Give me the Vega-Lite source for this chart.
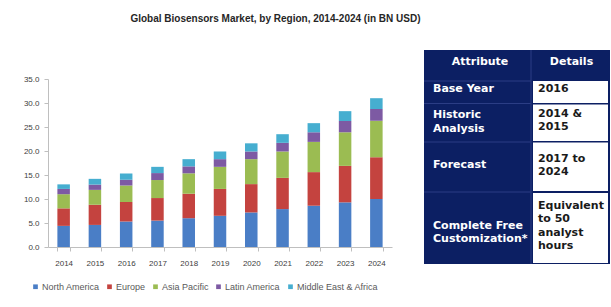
{
  "$schema": "https://vega.github.io/schema/vega-lite/v6.json",
  "padding": {"left": 23, "top": 13, "right": 0, "bottom": 0},
  "background": "white",
  "title": {
    "text": "Global Biosensors Market, by Region, 2014-2024 (in BN USD)",
    "anchor": "start",
    "dx": 107,
    "offset": 26,
    "font": "Liberation Sans",
    "fontSize": 10,
    "fontWeight": "bold",
    "color": "#262626"
  },
  "config": {
    "view": {"stroke": null},
    "concat": {"spacing": 31}
  },
  "resolve": {"scale": {"color": "independent", "x": "independent", "y": "independent"}},
  "hconcat": [
    {
      "width": 344,
      "height": 168,
      "data": {
        "values": [
          {"year": "2014", "North America": 4.4, "Europe": 3.65, "Asia Pacific": 2.95, "Latin America": 1.1, "Middle East & Africa": 0.95},
          {"year": "2015", "North America": 4.6, "Europe": 4.2, "Asia Pacific": 3.1, "Latin America": 1.1, "Middle East & Africa": 1.2},
          {"year": "2016", "North America": 5.3, "Europe": 4.1, "Asia Pacific": 3.4, "Latin America": 1.2, "Middle East & Africa": 1.3},
          {"year": "2017", "North America": 5.5, "Europe": 4.7, "Asia Pacific": 3.75, "Latin America": 1.45, "Middle East & Africa": 1.3},
          {"year": "2018", "North America": 6.0, "Europe": 5.1, "Asia Pacific": 4.25, "Latin America": 1.45, "Middle East & Africa": 1.5},
          {"year": "2019", "North America": 6.5, "Europe": 5.6, "Asia Pacific": 4.6, "Latin America": 1.6, "Middle East & Africa": 1.6},
          {"year": "2020", "North America": 7.2, "Europe": 5.9, "Asia Pacific": 5.2, "Latin America": 1.6, "Middle East & Africa": 1.7},
          {"year": "2021", "North America": 7.9, "Europe": 6.5, "Asia Pacific": 5.5, "Latin America": 1.8, "Middle East & Africa": 1.8},
          {"year": "2022", "North America": 8.6, "Europe": 7.0, "Asia Pacific": 6.3, "Latin America": 2.0, "Middle East & Africa": 1.9},
          {"year": "2023", "North America": 9.3, "Europe": 7.6, "Asia Pacific": 7.0, "Latin America": 2.35, "Middle East & Africa": 2.05},
          {"year": "2024", "North America": 10.0, "Europe": 8.7, "Asia Pacific": 7.6, "Latin America": 2.45, "Middle East & Africa": 2.25}
        ]
      },
      "transform": [
        {"fold": ["North America", "Europe", "Asia Pacific", "Latin America", "Middle East & Africa"], "as": ["region", "value"]},
        {
          "lookup": "region",
          "from": {
            "data": {
              "values": [
                {"region": "North America", "rank": 1},
                {"region": "Europe", "rank": 2},
                {"region": "Asia Pacific", "rank": 3},
                {"region": "Latin America", "rank": 4},
                {"region": "Middle East & Africa", "rank": 5}
              ]
            },
            "key": "region",
            "fields": ["rank"]
          }
        }
      ],
      "mark": {"type": "bar"},
      "encoding": {
        "x": {
          "field": "year",
          "type": "ordinal",
          "title": null,
          "scale": {"paddingInner": 0.6, "paddingOuter": 0.3},
          "axis": {
            "labelAngle": 0,
            "labelFontSize": 8,
            "labelFont": "Liberation Sans",
            "labelColor": "#404040",
            "labelPadding": 8,
            "domainColor": "#bfbfbf",
            "tickColor": "#bfbfbf",
            "tickSize": 4,
            "tickBand": "extent"
          }
        },
        "y": {
          "field": "value",
          "type": "quantitative",
          "stack": "zero",
          "title": null,
          "scale": {"domain": [0, 35], "nice": false},
          "axis": {
            "values": [0, 5, 10, 15, 20, 25, 30, 35],
            "format": ".1f",
            "grid": false,
            "labelFontSize": 8,
            "labelFont": "Liberation Sans",
            "labelColor": "#404040",
            "labelPadding": 5,
            "domainColor": "#bfbfbf",
            "tickColor": "#bfbfbf",
            "tickSize": 4
          }
        },
        "color": {
          "field": "region",
          "type": "nominal",
          "sort": ["North America", "Europe", "Asia Pacific", "Latin America", "Middle East & Africa"],
          "scale": {
            "domain": ["North America", "Europe", "Asia Pacific", "Latin America", "Middle East & Africa"],
            "range": ["#4a7ec6", "#c4433f", "#9bbc52", "#7d5aa3", "#46aed0"]
          },
          "legend": {
            "title": null,
            "orient": "none",
            "legendX": -17,
            "legendY": 203,
            "direction": "horizontal",
            "symbolType": "square",
            "symbolSize": 22,
            "symbolStrokeWidth": 0,
            "labelFontSize": 9,
            "labelFont": "Liberation Sans",
            "labelColor": "#595959",
            "labelOffset": 2,
            "columnPadding": 5
          }
        },
        "order": {"field": "rank", "type": "quantitative", "sort": "ascending"}
      }
    },
    {
      "width": 186,
      "height": 168,
      "layer": [
        {
          "data": {"values": [{"part": "table", "x0": 0, "x1": 186, "y0": 0, "y1": 214}]},
          "mark": {"type": "rect", "color": "#0c1f63"},
          "encoding": {
            "x": {"field": "x0", "type": "quantitative", "scale": {"domain": [0, 186], "nice": false, "zero": false}, "axis": null},
            "x2": {"field": "x1"},
            "y": {"field": "y0", "type": "quantitative", "scale": {"domain": [29, 197], "nice": false, "zero": false, "reverse": true}, "axis": null},
            "y2": {"field": "y1"}
          }
        },
        {
          "data": {
            "values": [
              {"part": "header", "x0": 0, "x1": 107, "y": 31},
              {"part": "Base Year", "x0": 0, "x1": 107, "y": 53.5},
              {"part": "Historic Analysis", "x0": 0, "x1": 107, "y": 92},
              {"part": "Forecast", "x0": 0, "x1": 107, "y": 142}
            ]
          },
          "mark": {"type": "rule", "color": "#2b3d85", "strokeWidth": 1},
          "encoding": {
            "x": {"field": "x0", "type": "quantitative", "scale": {"domain": [0, 186], "nice": false, "zero": false}, "axis": null},
            "x2": {"field": "x1"},
            "y": {"field": "y", "type": "quantitative", "scale": {"domain": [29, 197], "nice": false, "zero": false, "reverse": true}, "axis": null}
          }
        },
        {
          "data": {"values": [{"part": "column divider", "x": 107, "y0": 0, "y1": 214}]},
          "mark": {"type": "rule", "color": "#2b3d85", "strokeWidth": 1},
          "encoding": {
            "x": {"field": "x", "type": "quantitative", "scale": {"domain": [0, 186], "nice": false, "zero": false}, "axis": null},
            "y": {"field": "y0", "type": "quantitative", "scale": {"domain": [29, 197], "nice": false, "zero": false, "reverse": true}, "axis": null},
            "y2": {"field": "y1"}
          }
        },
        {
          "data": {
            "values": [
              {"part": "Base Year", "x0": 109, "x1": 184, "y0": 31, "y1": 53},
              {"part": "Historic Analysis", "x0": 109, "x1": 184, "y0": 54.5, "y1": 91},
              {"part": "Forecast", "x0": 109, "x1": 184, "y0": 92.5, "y1": 141},
              {"part": "Complete Free Customization*", "x0": 109, "x1": 184, "y0": 143, "y1": 213}
            ]
          },
          "mark": {"type": "rect", "color": "#ffffff"},
          "encoding": {
            "x": {"field": "x0", "type": "quantitative", "scale": {"domain": [0, 186], "nice": false, "zero": false}, "axis": null},
            "x2": {"field": "x1"},
            "y": {"field": "y0", "type": "quantitative", "scale": {"domain": [29, 197], "nice": false, "zero": false, "reverse": true}, "axis": null},
            "y2": {"field": "y1"}
          }
        },
        {
          "data": {
            "values": [
              {"t": "Attribute", "x": 56, "y": 12},
              {"t": "Details", "x": 147.5, "y": 12}
            ]
          },
          "mark": {"type": "text", "align": "center", "baseline": "middle", "font": "DejaVu Sans", "fontSize": 11, "fontWeight": "bold", "color": "#ffffff"},
          "encoding": {
            "x": {"field": "x", "type": "quantitative", "scale": {"domain": [0, 186], "nice": false, "zero": false}, "axis": null},
            "y": {"field": "y", "type": "quantitative", "scale": {"domain": [29, 197], "nice": false, "zero": false, "reverse": true}, "axis": null},
            "text": {"field": "t"}
          }
        },
        {
          "data": {
            "values": [
              {"t": "Base Year", "x": 9, "y": 39},
              {"t": "Historic\nAnalysis", "x": 9, "y": 65},
              {"t": "Forecast", "x": 9, "y": 115},
              {"t": "Complete Free\nCustomization*", "x": 9, "y": 175.7}
            ]
          },
          "mark": {"type": "text", "align": "left", "baseline": "middle", "lineBreak": "\n", "lineHeight": 13.5, "font": "DejaVu Sans", "fontSize": 11, "fontWeight": "bold", "color": "#ffffff"},
          "encoding": {
            "x": {"field": "x", "type": "quantitative", "scale": {"domain": [0, 186], "nice": false, "zero": false}, "axis": null},
            "y": {"field": "y", "type": "quantitative", "scale": {"domain": [29, 197], "nice": false, "zero": false, "reverse": true}, "axis": null},
            "text": {"field": "t"}
          }
        },
        {
          "data": {
            "values": [
              {"t": "2016", "x": 114, "y": 39},
              {"t": "2014 &\n2015", "x": 114, "y": 63.7},
              {"t": "2017 to\n2024", "x": 114, "y": 108.5},
              {"t": "Equivalent\nto 50\nanalyst\nhours", "x": 114, "y": 155.7}
            ]
          },
          "mark": {"type": "text", "align": "left", "baseline": "middle", "lineBreak": "\n", "lineHeight": 13.5, "font": "DejaVu Sans", "fontSize": 11, "fontWeight": "bold", "color": "#1a1a1a"},
          "encoding": {
            "x": {"field": "x", "type": "quantitative", "scale": {"domain": [0, 186], "nice": false, "zero": false}, "axis": null},
            "y": {"field": "y", "type": "quantitative", "scale": {"domain": [29, 197], "nice": false, "zero": false, "reverse": true}, "axis": null},
            "text": {"field": "t"}
          }
        }
      ]
    }
  ]
}
